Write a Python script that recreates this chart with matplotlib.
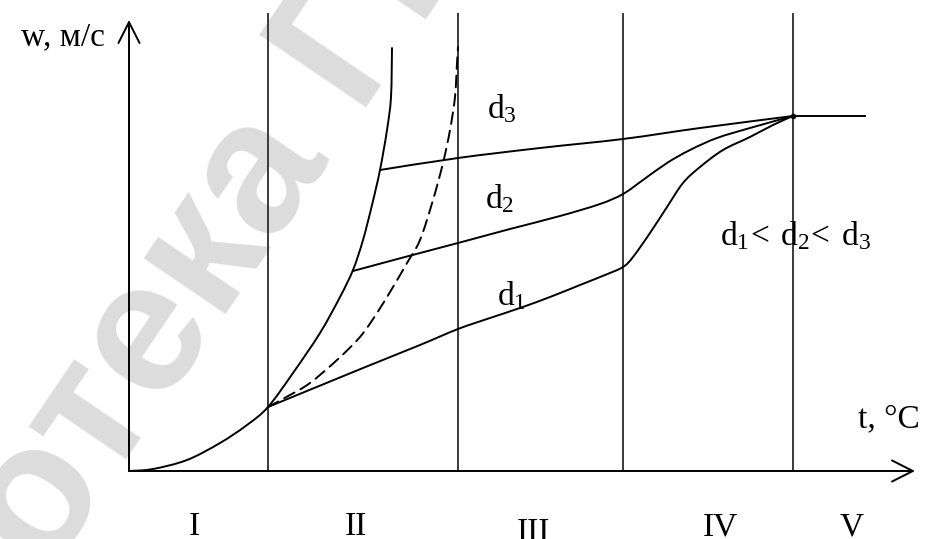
import matplotlib
matplotlib.use("Agg")
import matplotlib.pyplot as plt
import numpy as np
from matplotlib.path import Path
from matplotlib.patches import PathPatch

plt.rcParams["font.family"] = ["Liberation Serif", "DejaVu Serif"]
plt.rcParams["mathtext.fontset"] = "custom"
plt.rcParams["mathtext.rm"] = "Liberation Serif"
plt.rcParams["mathtext.it"] = "Liberation Serif:italic"

# Zone boundaries on the temperature axis (arbitrary units)
zone_bounds = [1.39, 3.29, 4.94, 6.64]
zone_labels = ["I", "II", "III", "IV", "V"]
zone_label_t = [0.65, 2.27, 4.04, 5.91, 7.23]
zone_label_w = [-0.64, -0.64, -0.70, -0.64, -0.64]

# Fixed-bed curve (zone I) continuing into the solid limit curve (zone II)
bed_t = [0.00, 0.24, 0.58, 0.91, 1.18, 1.39, 1.64, 1.91, 2.11, 2.24, 2.34, 2.43, 2.51, 2.58, 2.62, 2.63]
bed_w = [0.00, 0.02, 0.11, 0.28, 0.46, 0.64, 0.98, 1.38, 1.74, 2.01, 2.31, 2.66, 3.01, 3.41, 3.74, 4.23]

# Dashed limit curve
dash_t = [1.39, 1.61, 1.81, 2.08, 2.31, 2.48, 2.64, 2.78, 2.91, 3.04, 3.14, 3.21, 3.26, 3.28, 3.29]
dash_w = [0.64, 0.76, 0.88, 1.11, 1.34, 1.58, 1.84, 2.08, 2.31, 2.71, 3.08, 3.41, 3.74, 4.08, 4.24]

# Particle size d3
d3_t = [2.51, 3.29, 4.11, 4.94, 5.71, 6.64]
d3_w = [3.01, 3.13, 3.23, 3.32, 3.43, 3.55]

# Particle size d2
d2_t = [2.24, 2.76, 3.29, 3.81, 4.31, 4.71, 4.94, 5.14, 5.38, 5.61, 5.88, 6.21, 6.64]
d2_w = [2.00, 2.14, 2.28, 2.42, 2.55, 2.67, 2.77, 2.91, 3.08, 3.21, 3.33, 3.43, 3.55]

# Particle size d1
d1_t = [1.39, 2.34, 2.91, 3.29, 3.61, 3.91, 4.21, 4.51, 4.76, 4.94, 5.04, 5.21,
        5.38, 5.54, 5.71, 5.94, 6.21, 6.44, 6.64]
d1_w = [0.64, 1.03, 1.26, 1.42, 1.53, 1.63, 1.74, 1.86, 1.96, 2.04, 2.14, 2.38,
        2.64, 2.88, 3.04, 3.21, 3.34, 3.46, 3.55]

# Common plateau (pneumatic transport)
plateau_t = [6.64, 7.36]
plateau_w = [3.55, 3.55]

t_axis_end = 7.86
w_axis_end = 4.51
bound_top = 4.57


def smooth_curve(ax, xs, ys, dashes=None, **kw):
    """Draw a curve through the given points as a chain of cubic Bezier segments."""
    pts = np.column_stack([xs, ys]).astype(float)
    # work in display space so the smoothing is isotropic on the page
    disp = ax.transData.transform(pts)
    n = len(disp)
    verts = [disp[0]]
    codes = [Path.MOVETO]
    for i in range(n - 1):
        p0 = disp[i - 1] if i > 0 else disp[i]
        p1 = disp[i]
        p2 = disp[i + 1]
        p3 = disp[i + 2] if i + 2 < n else disp[i + 1]
        c1 = p1 + (p2 - p0) / 6.0
        c2 = p2 - (p3 - p1) / 6.0
        verts += [c1, c2, p2]
        codes += [Path.CURVE4] * 3
    verts = ax.transData.inverted().transform(np.array(verts))
    patch = PathPatch(Path(verts, codes), fill=False, **kw)
    if dashes is not None:
        patch.set_linestyle((0, dashes))
    ax.add_patch(patch)
    return patch


fig = plt.figure(figsize=(9.25, 5.39), dpi=100)
ax = fig.add_axes([0, 0, 1, 1])
ax.set_xlim(-1.29, 7.96)
ax.set_ylim(-0.68, 4.71)
ax.axis("off")

# Background watermark
ax.text(0.130, 0.290, "Библиотека ГГТУ", transform=ax.transAxes,
        fontsize=135, fontweight="bold", family="Liberation Sans",
        color="#dcdcdc", rotation=55.8, rotation_mode="anchor",
        ha="center", va="center", zorder=0)

lw = 1.4
for tb in zone_bounds:
    ax.plot([tb, tb], [0, bound_top], color="#3a3a3a", lw=lw, zorder=1)

# Axes with arrows
arrow = dict(arrowstyle="->,head_length=0.75,head_width=0.38", lw=lw,
             color="black", mutation_scale=20, shrinkA=0, shrinkB=0)
ax.annotate("", xy=(t_axis_end, 0), xytext=(0, 0), arrowprops=arrow, zorder=3)
ax.annotate("", xy=(0, w_axis_end), xytext=(0, 0), arrowprops=arrow, zorder=3)

line_kw = dict(edgecolor="black", lw=lw, zorder=2, capstyle="round", joinstyle="round")
smooth_curve(ax, bed_t, bed_w, **line_kw)
smooth_curve(ax, dash_t, dash_w, dashes=[6, 3.5], **line_kw)
smooth_curve(ax, d3_t, d3_w, **line_kw)
smooth_curve(ax, d2_t, d2_w, **line_kw)
smooth_curve(ax, d1_t, d1_w, **line_kw)
ax.plot(plateau_t, plateau_w, color="black", lw=lw, zorder=2)
ax.plot([plateau_t[0]], [plateau_w[0]], "o", color="black", ms=3, zorder=3)

fs = 24
ax.text(-0.24, 4.26, "w, м/с", fontsize=fs, ha="right", va="baseline")
ax.text(7.29, 0.44, "t, °C", fontsize=fs, ha="left", va="baseline")
ax.text(3.58, 3.53, r"$\mathrm{d}_3$", fontsize=fs, ha="left", va="baseline")
ax.text(3.56, 2.63, r"$\mathrm{d}_2$", fontsize=fs, ha="left", va="baseline")
ax.text(3.68, 1.66, r"$\mathrm{d}_1$", fontsize=fs, ha="left", va="baseline")
ax.text(5.91, 2.26, r"$\mathrm{d}_1\!{<}\;\mathrm{d}_2\!{<}\;\mathrm{d}_3$",
        fontsize=fs, ha="left", va="baseline")

for lab, tx, wy in zip(zone_labels, zone_label_t, zone_label_w):
    ax.text(tx, wy, lab, fontsize=fs, ha="center", va="baseline")

fig.savefig("out.png", dpi=100)
